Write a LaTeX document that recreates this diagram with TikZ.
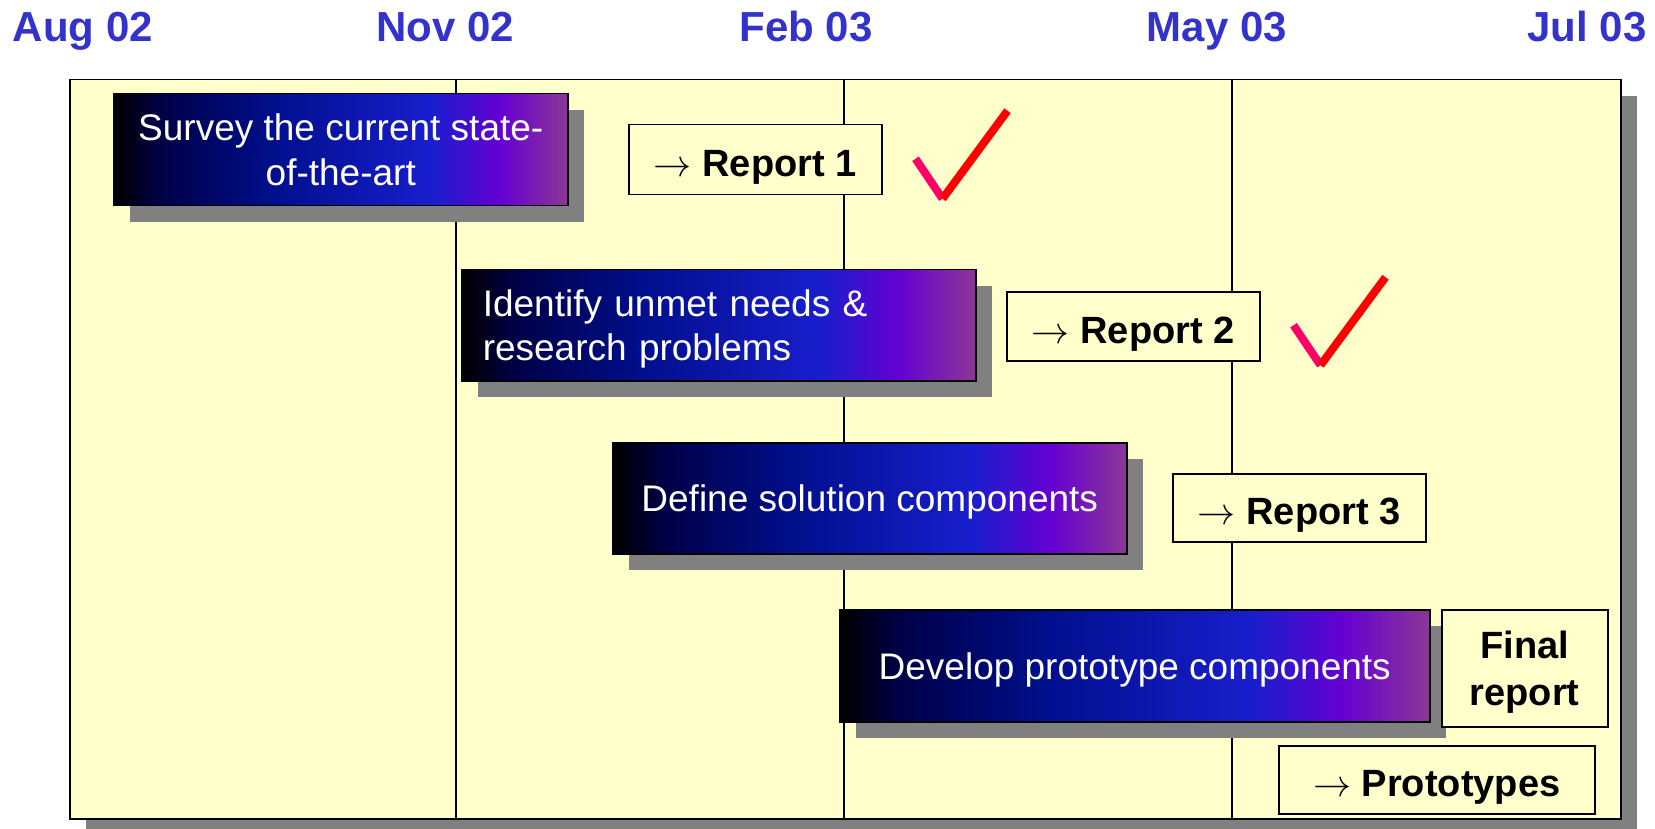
\documentclass[tikz,border=0pt]{standalone}
\usepackage{fix-cm}
\usepackage{fontspec}
\setmainfont{Liberation Sans}
\usetikzlibrary{shadows}
\definecolor{paneyellow}{RGB}{255,255,204}
\definecolor{monthblue}{RGB}{51,51,204}
\definecolor{shadowgray}{RGB}{128,128,128}
\definecolor{tickpink}{RGB}{255,0,102}
\definecolor{tickred}{RGB}{255,0,0}
\definecolor{barnavy}{RGB}{0,0,70}
\definecolor{bardeep}{RGB}{0,15,140}
\definecolor{barblue}{RGB}{25,30,205}
\definecolor{barviolet}{RGB}{100,0,210}
\definecolor{barmauve}{RGB}{140,55,150}
\pgfdeclarehorizontalshading{taskshade}{100bp}{color(0bp)=(black); color(25bp)=(black); color(30bp)=(barnavy); color(42.5bp)=(bardeep); color(60bp)=(barblue); color(67.5bp)=(barviolet); color(75bp)=(barmauve); color(100bp)=(barmauve)}

\begin{document}
\begin{tikzpicture}[
    x=1pt, y=-1pt,
    month/.style={font=\bfseries\fontsize{42}{48}\selectfont, text=monthblue, anchor=base},
    task/.style={draw=black, line width=1.5pt, shade, shading=taskshade, text=white, font=\fontsize{37}{44.5}\selectfont, align=center, anchor=north west, inner sep=0pt, text height=26.5pt, text depth=0pt, drop shadow={shadow xshift=16pt, shadow yshift=-16pt, fill=shadowgray, opacity=1}},
    report/.style={draw=black, line width=1.5pt, fill=paneyellow, font=\bfseries\fontsize{38}{46.5}\selectfont, align=center, anchor=north west, inner sep=0pt, text height=34pt, text depth=0pt},
    gridline/.style={line width=1.5pt},
    tick/.style={line width=8pt}
]
    \useasboundingbox (0,0) rectangle (1655,829);

    % Month headings
    \foreach \x/\m/\n in {83/Aug 02/aug, 445/Nov 02/nov, 806/Feb 03/feb, 1217/May 03/may, 1587/Jul 03/jul}
        \node[month] (\n) at (\x,42) {\m};

    % Chart pane with quarter lines
    \node[draw, line width=1.5pt, fill=paneyellow, minimum width=1551pt, minimum height=739pt, anchor=north west, inner sep=0pt, drop shadow={shadow xshift=16pt, shadow yshift=-16pt, fill=shadowgray, opacity=1}] (pane) at (69,79) {};
    \foreach \x in {456,844,1232}
        \draw[gridline] (\x,79) -- (\x,818);

    % Task bars
    \node[task, text height=71pt, minimum width=454pt, minimum height=112pt] (survey) at (113,93) {Survey the current state-\\of-the-art};
    \node[task, text depth=44.5pt, text width=472pt, inner xsep=21pt, minimum height=111pt, align=left] (identify) at (461,269) {Identify unmet needs \&\\research problems};
    \node[task, minimum width=514pt, minimum height=111pt] (define) at (612,442) {Define solution components};
    \node[task, minimum width=590pt, minimum height=112pt] (develop) at (839,609) {Develop prototype components};

    % Deliverables
    \node[report, minimum width=253pt, minimum height=70pt] (rep1) at (628,124) {$\rightarrow$ Report 1};
    \node[report, minimum width=253pt, minimum height=69pt] (rep2) at (1006,291) {$\rightarrow$ Report 2};
    \node[report, minimum width=253pt, minimum height=68pt] (rep3) at (1172,473) {$\rightarrow$ Report 3};
    \node[report, text height=73.5pt, minimum width=166pt, minimum height=117pt] (final) at (1441,609) {Final\\report};
    \node[report, minimum width=316pt, minimum height=68pt] (proto) at (1278,745) {$\rightarrow$ Prototypes};

    % Done marks
    \foreach \r in {rep1,rep2} {
        \begin{scope}[shift={(\r.east)}]
            \draw[tick, tickpink] (33,-1) -- (60,39);
            \draw[tick, tickred] (60,39) -- (125,-49);
        \end{scope}
    }
\end{tikzpicture}
\end{document}
